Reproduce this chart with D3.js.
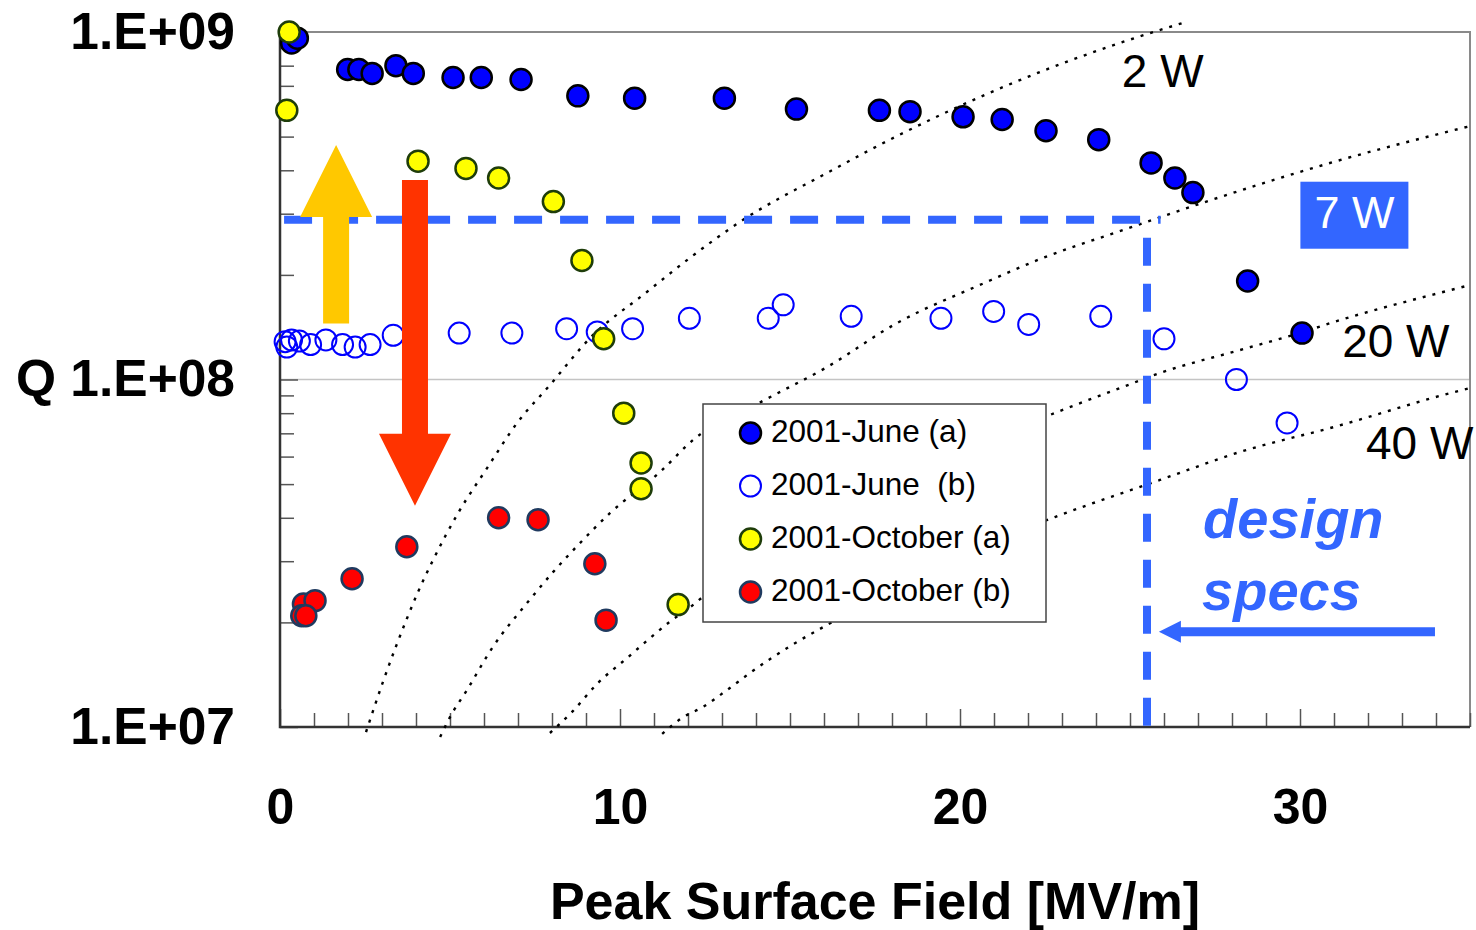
<!DOCTYPE html>
<html>
<head>
<meta charset="utf-8">
<script src="https://cdn.jsdelivr.net/npm/d3@7"></script>
<style>
  body { margin: 0; background: #fff; }
  text { font-family: "Liberation Sans", Arial, sans-serif; }
</style>
</head>
<body>
<div id="chart"></div>
<script>
// measured points: [peak surface field MV/m, Q]
const juneA = [[0.34,9.3e8],[0.51,9.6e8],[1.99,7.8e8],[2.32,7.8e8],[2.71,7.6e8],[3.41,8.0e8],[3.92,7.6e8],
    [5.09,7.4e8],[5.92,7.4e8],[7.09,7.3e8],[8.76,6.55e8],[10.43,6.45e8],[13.07,6.45e8],[15.19,6.0e8],
    [17.63,5.95e8],[18.53,5.9e8],[20.09,5.7e8],[21.24,5.6e8],[22.53,5.2e8],[24.08,4.9e8],[25.62,4.2e8],
    [26.32,3.8e8],[26.85,3.45e8],[28.46,1.92e8],[30.06,1.36e8]]

const juneB = [[0.15,1.285e8],[0.2,1.24e8],[0.34,1.3e8],[0.57,1.29e8],[0.9,1.26e8],[1.35,1.3e8],[1.84,1.26e8],
    [2.21,1.24e8],[2.65,1.26e8],[3.33,1.34e8],[5.27,1.36e8],[6.82,1.36e8],[8.43,1.4e8],[9.33,1.37e8],
    [10.37,1.4e8],[12.04,1.5e8],[14.36,1.5e8],[14.8,1.64e8],[16.8,1.52e8],[19.44,1.5e8],[20.99,1.57e8],
    [22.02,1.44e8],[24.14,1.52e8],[26.0,1.31e8],[28.13,1.0e8],[29.62,7.5e7]]

const octA = [[0.27,1.0e9],[0.2,5.95e8],[4.06,4.25e8],[5.47,4.05e8],[6.43,3.8e8],[8.04,3.25e8],[8.88,2.2e8],
    [9.52,1.31e8],[10.11,8.0e7],[10.62,5.75e7],[10.62,4.85e7],[11.71,2.25e7]]

const octB = [[0.69,2.26e7],[1.03,2.31e7],[0.64,2.09e7],[0.76,2.09e7],[2.12,2.67e7],[3.73,3.3e7],
    [6.43,4.0e7],[7.59,3.95e7],[9.26,2.95e7],[9.59,2.03e7]]

// constant dissipated power curves
const curve2W = [[2.53,9.67e6],[3.03,1.35e7],[3.74,2.06e7],[4.03,2.41e7],[4.5,3.02e7],[5.24,4.13e7],[6.09,5.56e7],
    [6.97,7.49e7],[7.94,9.64e7],[9.12,1.316e8],[10.79,1.786e8],[12.06,2.24e8],[13.62,2.88e8],[16.09,3.93e8],
    [18.15,5.02e8],[20.65,6.54e8],[22.5,7.77e8],[24.79,9.36e8],[26.65,1.069e9]]
const curve7W = [[4.71,9.36e6],[5.0,1.068e7],[5.5,1.278e7],[6.26,1.70e7],[7.26,2.27e7],[8.03,2.79e7],[8.82,3.38e7],
    [9.71,4.13e7],[11.18,5.42e7],[12.15,6.70e7],[14.09,8.56e7],[16.09,1.086e8],[18.15,1.454e8],[20.65,1.883e8],
    [22.5,2.25e8],[24.79,2.69e8],[27.12,3.22e8],[31.0,4.23e8],[35,5.36e8]]
const curve20W = [[7.94,9.61e6],[8.59,1.105e7],[9.35,1.338e7],[10.21,1.58e7],[10.82,1.78e7],[11.47,2.01e7],
    [12.06,2.21e7],[12.44,2.37e7],[22.79,8.01e7],[24.71,9.45e7],[25.88,1.044e8],[28.24,1.216e8],
    [30.09,1.37e8],[31.0,1.464e8],[34.44,1.81e8],[35,1.87e8]]
const curve40W = [[11.24,9.55e6],[11.82,1.061e7],[12.44,1.142e7],[13.15,1.278e7],[13.82,1.43e7],[15.06,1.722e7],
    [16.09,1.966e7],[22.79,4.02e7],[24.79,4.72e7],[25.88,5.14e7],[28.24,6.19e7],[31.0,7.30e7],
    [34.44,9.15e7],[35,9.45e7]]

const seriesNames = ["2001-June (a)", "2001-June  (b)", "2001-October (a)", "2001-October (b)"]
const xTickLabels = [0, 10, 20, 30]
const yTickLabels = [1e7, 1e8, 1e9]

// design specs
const specField = 25.5
const specQ = 2.88e8

const margin = {top: 32, left: 280}
const width = 1190
const height = 695

const seriesStyle = [
    {data: juneA, fill: "#0000ff", stroke: "#000", sw: 2.5, r: 10.5},
    {data: juneB, fill: "none", stroke: "#0000ff", sw: 2, r: 10.5},
    {data: octA, fill: "#ffff00", stroke: "#1e3d0a", sw: 2.5, r: 10.5},
    {data: octB, fill: "#ff0000", stroke: "#1f3a5f", sw: 2.5, r: 10.5}
]

let svg = d3.select('#chart')
    .append('svg')
    .attr('width', 1476)
    .attr('height', 930)

let chart = svg.append('g')
    .attr('transform', `translate(${margin.left},${margin.top})`)

let x = d3.scaleLinear().domain([0, 35]).range([0, width])
let y = d3.scaleLog().domain([1e7, 1e9]).range([height, 0])

// gridline at 1e8
chart.append('line')
    .attr('x1', 0).attr('x2', width)
    .attr('y1', y(1e8)).attr('y2', y(1e8))
    .attr('stroke', '#c4c4c4').attr('stroke-width', 1.5)

// frame top and right
chart.append('path')
    .attr('d', `M0,0H${width}V${height}`)
    .attr('fill', 'none').attr('stroke', '#8a8a8a').attr('stroke-width', 2)

// inner ticks
let yTicks = chart.append('g')
    .call(d3.axisRight(y).tickValues(y.ticks()).tickSize(14).tickFormat(''))
yTicks.select('.domain').remove()
yTicks.selectAll('.tick line')
    .attr('x2', d => yTickLabels.includes(d) ? 18 : 14)
    .attr('stroke', '#555').attr('stroke-width', 1.5)

let xTicks = chart.append('g')
    .attr('transform', `translate(0,${height})`)
    .call(d3.axisTop(x).ticks(35).tickSize(14).tickFormat(''))
xTicks.select('.domain').remove()
xTicks.selectAll('.tick line')
    .attr('y2', d => d % 10 === 0 ? -18 : -14)
    .attr('stroke', '#555').attr('stroke-width', 1.5)

// axis lines
chart.append('path')
    .attr('d', `M0,0V${height}H${width}`)
    .attr('fill', 'none').attr('stroke', '#333').attr('stroke-width', 2.5)

// tick labels
let yLabels = chart.append('g')
    .call(d3.axisLeft(y).tickValues(yTickLabels).tickSize(0).tickPadding(45)
        .tickFormat(d => (d === 1e8 ? 'Q ' : '') + '1.E+' + String(Math.round(Math.log10(d))).padStart(2, '0')))
yLabels.select('.domain').remove()
yLabels.selectAll('text')
    .attr('font-family', '"Liberation Sans", Arial, sans-serif')
    .attr('font-size', 51.5).attr('font-weight', 'bold').attr('fill', '#000')

let xLabels = chart.append('g')
    .attr('transform', `translate(0,${height})`)
    .call(d3.axisBottom(x).tickValues(xTickLabels).tickSize(0).tickPadding(61))
xLabels.select('.domain').remove()
xLabels.selectAll('text')
    .attr('font-family', '"Liberation Sans", Arial, sans-serif')
    .attr('font-size', 50).attr('font-weight', 'bold').attr('fill', '#000')

chart.append('text')
    .attr('x', width / 2)
    .attr('y', 919 - margin.top)
    .attr('text-anchor', 'middle')
    .attr('font-size', 52).attr('font-weight', 'bold')
    .text('Peak Surface Field [MV/m]')

// power curves
let line = d3.line()
    .x(d => x(d[0]))
    .y(d => y(d[1]))
    .curve(d3.curveMonotoneX)

chart.append('g')
    .selectAll('path')
    .data([curve2W, curve7W, curve20W, curve40W])
    .join('path')
    .attr('d', line)
    .attr('fill', 'none')
    .attr('stroke', '#000')
    .attr('stroke-width', 2.4)
    .attr('stroke-dasharray', '3,7')

// design spec dashed lines
chart.append('line')
    .attr('x1', x(0.12)).attr('x2', x(25.9))
    .attr('y1', y(specQ)).attr('y2', y(specQ))
    .attr('stroke', '#3366ff').attr('stroke-width', 8)
    .attr('stroke-dasharray', '28,18')
chart.append('line')
    .attr('x1', x(specField)).attr('x2', x(specField))
    .attr('y1', y(specQ)).attr('y2', y(1e7))
    .attr('stroke', '#3366ff').attr('stroke-width', 8)
    .attr('stroke-dasharray', '28,18')
    .attr('stroke-dashoffset', 28)

// points
chart.append('g')
    .selectAll('g')
    .data(seriesStyle)
    .join('g')
    .each(function(s) {
        d3.select(this).selectAll('circle')
            .data(s.data)
            .join('circle')
            .attr('cx', d => x(d[0]))
            .attr('cy', d => y(d[1]))
            .attr('r', s.r)
            .attr('fill', s.fill)
            .attr('stroke', s.stroke)
            .attr('stroke-width', s.sw)
    })

// block arrows
function arrow(from, to, shaft, headW, headL, color) {
    let x0 = x(from[0]), y0 = y(from[1]), x1 = x(to[0]), y1 = y(to[1])
    let len = Math.hypot(x1 - x0, y1 - y0)
    let ux = (x1 - x0) / len, uy = (y1 - y0) / len
    let px = -uy, py = ux
    let bx = x1 - ux * headL, by = y1 - uy * headL
    let pts = [
        [x0 + px * shaft / 2, y0 + py * shaft / 2],
        [bx + px * shaft / 2, by + py * shaft / 2],
        [bx + px * headW / 2, by + py * headW / 2],
        [x1, y1],
        [bx - px * headW / 2, by - py * headW / 2],
        [bx - px * shaft / 2, by - py * shaft / 2],
        [x0 - px * shaft / 2, y0 - py * shaft / 2]
    ]
    chart.append('path')
        .attr('d', 'M' + pts.join('L') + 'Z')
        .attr('fill', color)
}
arrow([1.65, 1.45e8], [1.65, 4.73e8], 26, 72, 72, '#ffc800')
arrow([3.97, 3.75e8], [3.97, 4.33e7], 26, 72, 72, '#ff3300')
arrow([33.97, 1.88e7], [25.85, 1.88e7], 9, 22, 22, '#3366ff')

// curve labels
let powerLabels = [['2 W', 24.76, 6.95e8], ['20 W', 31.24, 1.16e8], ['40 W', 31.94, 5.9e7]]
chart.append('g')
    .selectAll('text')
    .data(powerLabels)
    .join('text')
    .attr('x', d => x(d[1]))
    .attr('y', d => y(d[2]))
    .attr('font-size', 46)
    .attr('fill', '#000')
    .text(d => d[0])

// 7 W box
let boxX = x(31.6), boxY = y(2.97e8)
chart.append('rect')
    .attr('x', boxX - 54).attr('y', boxY - 33.5)
    .attr('width', 108).attr('height', 67)
    .attr('fill', '#3366ff')
chart.append('text')
    .attr('x', boxX).attr('y', boxY + 13)
    .attr('text-anchor', 'middle')
    .attr('font-size', 45).attr('fill', '#fff')
    .text('7 W')

// design specs
chart.append('text')
    .attr('x', x(27.15)).attr('y', y(3.5e7))
    .attr('font-size', 56).attr('font-weight', 'bold').attr('font-style', 'italic')
    .attr('fill', '#3366ff')
    .text('design')
chart.append('text')
    .attr('x', x(27.12)).attr('y', y(2.17e7))
    .attr('font-size', 56).attr('font-weight', 'bold').attr('font-style', 'italic')
    .attr('fill', '#3366ff')
    .text('specs')

// legend
let legendGroup = svg.append('g')
    .attr('transform', 'translate(703,404)')

legendGroup.append('rect')
    .attr('width', 343).attr('height', 218)
    .attr('fill', '#fff').attr('stroke', '#444').attr('stroke-width', 1.5)

legendGroup.selectAll('circle')
    .data(seriesStyle)
    .join('circle')
    .attr('cx', 47.5)
    .attr('cy', (d, i) => 29 + i * 53)
    .attr('r', d => d.r)
    .attr('fill', d => d.fill)
    .attr('stroke', d => d.stroke)
    .attr('stroke-width', d => d.sw)

legendGroup.selectAll('text')
    .data(seriesNames)
    .join('text')
    .attr('x', 68)
    .attr('y', (d, i) => 38 + i * 53)
    .attr('font-size', 31.5)
    .style('white-space', 'pre')
    .text(d => d)
</script>
</body>
</html>
